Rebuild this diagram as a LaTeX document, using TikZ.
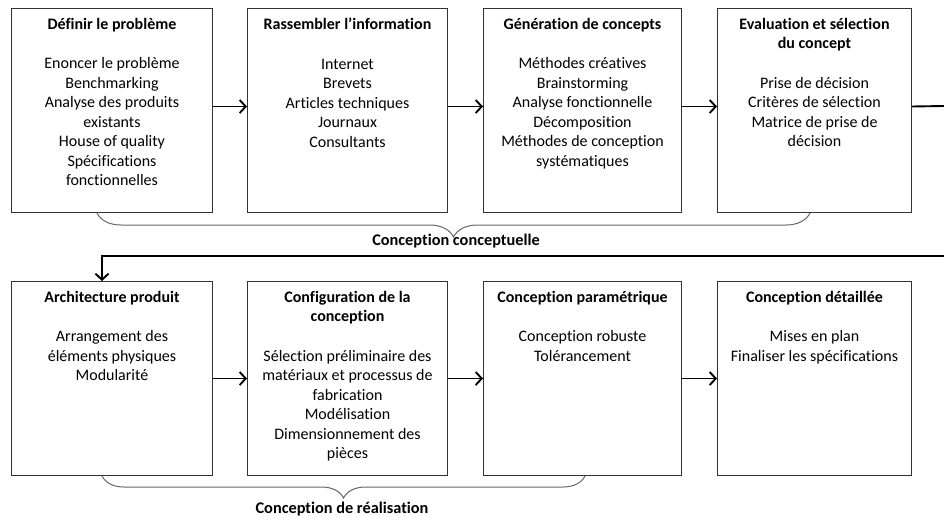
\documentclass[tikz,border=0pt]{standalone}
\usepackage{fontspec}
\setmainfont{Carlito}[Ligatures=NoCommon]
\usetikzlibrary{positioning, arrows.meta, decorations.pathreplacing}

\begin{document}
\begin{tikzpicture}[
    x=1pt, y=-1pt,
    >={Straight Barb[length=6pt, width=13pt]},
    etape/.style={draw=black!80, line width=1pt, rectangle, anchor=north west, inner sep=0pt},
    contenu/.style={align=center, inner sep=0pt, font=\fontsize{16pt}{19.5pt}\selectfont},
    fleche/.style={->, line width=1.9pt, black},
    accolade/.style={draw=black!60, line width=1pt, decorate, decoration={brace, amplitude=#1}},
    etiquette/.style={font=\fontsize{16.3pt}{18pt}\selectfont\bfseries}
]
\useasboundingbox (0,0) rectangle (944,517);

% 1. Phase conceptuelle (rangee du haut)
\node[etape, minimum width=201pt, minimum height=204pt] (b1) at (11,8) {};
\node[etape, minimum width=200pt, minimum height=204pt] (b2) at (247,8) {};
\node[etape, minimum width=198pt, minimum height=204pt] (b3) at (483,8) {};
\node[etape, minimum width=194pt, minimum height=204pt] (b4) at (717,8) {};

\node[contenu, below=10pt of b1.north] (t1) {\textbf{Définir le problème}\\[20pt]
    Enoncer le problème\\ Benchmarking\\ Analyse des produits\\ existants\\
    House of quality\\ Spécifications\\ fonctionnelles};
\node[contenu, below=10pt of b2.north] (t2) {\textbf{Rassembler l’information}\\[20pt]
    Internet\\ Brevets\\ Articles techniques\\ Journaux\\ Consultants};
\node[contenu, below=10pt of b3.north] (t3) {\textbf{Génération de concepts}\\[20pt]
    Méthodes créatives\\ Brainstorming\\ Analyse fonctionnelle\\ Décomposition\\
    Méthodes de conception\\ systématiques};
\node[contenu, below=10pt of b4.north] (t4) {\textbf{Evaluation et sélection}\\ \textbf{du concept}\\[20pt]
    Prise de décision\\ Critères de sélection\\ Matrice de prise de\\ décision};

% 2. Phase de realisation (rangee du bas)
\node[etape, minimum width=201pt, minimum height=194pt] (b5) at (11,281) {};
\node[etape, minimum width=200pt, minimum height=194pt] (b6) at (247,281) {};
\node[etape, minimum width=198pt, minimum height=194pt] (b7) at (483,281) {};
\node[etape, minimum width=194pt, minimum height=194pt] (b8) at (717,281) {};

\node[contenu, below=10pt of b5.north] (t5) {\textbf{Architecture produit}\\[20pt]
    Arrangement des\\ éléments physiques\\ Modularité};
\node[contenu, below=10pt of b6.north] (t6) {\textbf{Configuration de la}\\ \textbf{conception}\\[20pt]
    Sélection préliminaire des\\ matériaux et processus de\\ fabrication\\
    Modélisation\\ Dimensionnement des\\ pièces};
\node[contenu, below=10pt of b7.north] (t7) {\textbf{Conception paramétrique}\\[20pt]
    Conception robuste\\ Tolérancement};
\node[contenu, below=10pt of b8.north] (t8) {\textbf{Conception détaillée}\\[20pt]
    Mises en plan\\ Finaliser les spécifications};

% 3. Fleches entre les etapes
\draw[fleche] ([yshift=4pt]b1.east) -- ([yshift=4pt]b2.west);
\draw[fleche] ([yshift=4pt]b2.east) -- ([yshift=4pt]b3.west);
\draw[fleche] ([yshift=4pt]b3.east) -- ([yshift=4pt]b4.west);
\draw[fleche] (b5.east) -- (b6.west);
\draw[fleche] (b6.east) -- (b7.west);
\draw[fleche] (b7.east) -- (b8.west);

% 4. Retour vers la rangee du bas (sort par le bord droit)
\coordinate (sortie) at (944,106);
\coordinate (entree) at (944,256);
\coordinate (coude) at (102,256);
\draw[line width=1.9pt] ([yshift=4pt]b4.east) -- (sortie);
\draw[fleche] (entree) -- (coude) -- (coude |- b5.north);

% 5. Accolades et titres des phases
\draw[accolade=24pt] (810,213) -- (97,213);
\node[etiquette] (phase1) at (456,241) {Conception conceptuelle};
\draw[accolade=22pt] (585,476) -- (102,476);
\node[etiquette] (phase2) at (342,509) {Conception de réalisation};

\end{tikzpicture}
\end{document}
